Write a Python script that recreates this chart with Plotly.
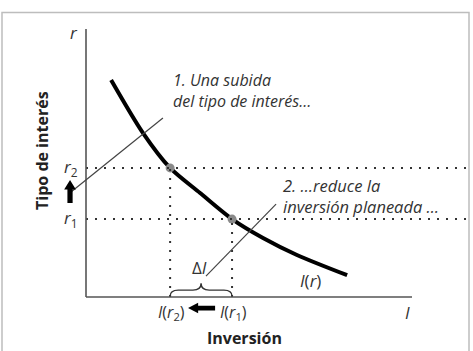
import plotly.graph_objects as go

# ---- data (conceptual diagram units) ----
curve_x = [0.77, 1.75, 2.58, 3.50, 4.48, 5.43, 6.47, 8.01]
curve_y = [6.66, 5.03, 3.96, 3.19, 2.39, 1.81, 1.29, 0.67]
r_levels = [3.96, 2.39]          # r2, r1
i_levels = [2.58, 4.48]          # I(r2), I(r1)
r_labels = ["<i>r</i><sub>2</sub>", "<i>r</i><sub>1</sub>"]
i_labels = ["<i>I</i>(<i>r</i><sub>2</sub>)", "<i>I</i>(<i>r</i><sub>1</sub>)"]
note1 = ["1. Una subida", "del tipo de interés…"]
note2 = ["2. …reduce la", "inversión planeada …"]
x_axis_len = 10.0
y_axis_len = 8.22

W, H = 473, 351
PX = 32.6  # pixels per unit
x_range = [-86 / PX, (W - 86) / PX]
y_range = [-(H - 297) / PX, 297 / PX]

r2, r1 = r_levels
i2, i1 = i_levels

fig = go.Figure()

fig.add_trace(go.Scatter(x=curve_x, y=curve_y, mode="lines",
                         line=dict(color="black", width=4, shape="spline", smoothing=0.8),
                         hoverinfo="skip", showlegend=False))
fig.add_trace(go.Scatter(x=i_levels, y=r_levels, mode="markers",
                         marker=dict(color="#8a8a8a", size=9),
                         hoverinfo="skip", showlegend=False))

shapes = []
dot = dict(color="#333333", width=2, dash="2px,7px")
x_right = x_range[1] - 0.1
for r in r_levels:
    shapes.append(dict(type="line", xref="x", yref="y", x0=0, x1=x_right, y0=r, y1=r, line=dot))
for i, r in zip(i_levels, r_levels):
    shapes.append(dict(type="line", xref="x", yref="y", x0=i, x1=i, y0=0, y1=r, line=dot))
ax = dict(color="#555555", width=1.6)
shapes.append(dict(type="line", xref="x", yref="y", x0=0, x1=0, y0=0, y1=y_axis_len, line=ax))
shapes.append(dict(type="line", xref="x", yref="y", x0=0, x1=x_axis_len, y0=0, y1=0, line=ax))
lead = dict(color="#444444", width=1.2)
shapes.append(dict(type="line", xref="x", yref="y", x0=-0.46, y0=3.22, x1=2.36, y1=5.49, line=lead))
shapes.append(dict(type="line", xref="x", yref="y", x0=3.68, y0=0.64, x1=5.83, y1=2.85, line=lead))
# brace
h = 0.42
d = 0.25
mid = (i2 + i1) / 2
path = (f"M {i2},0.02 Q {i2},{h/2} {i2+d},{h/2} L {mid-d},{h/2} "
        f"Q {mid},{h/2} {mid},{h} Q {mid},{h/2} {mid+d},{h/2} "
        f"L {i1-d},{h/2} Q {i1},{h/2} {i1},0.02")
shapes.append(dict(type="path", xref="x", yref="y", path=path,
                   line=dict(color="#333333", width=1.4)))

def up_arrow(x, y0, y1, sw=0.08, hw=0.18, hl=0.29):
    return (f"M {x-sw},{y0} L {x-sw},{y1-hl} L {x-hw},{y1-hl} L {x},{y1} "
            f"L {x+hw},{y1-hl} L {x+sw},{y1-hl} L {x+sw},{y0} Z")

def left_arrow(y, x0, x1, sw=0.075, hw=0.16, hl=0.31):
    return (f"M {x0},{y-sw} L {x1+hl},{y-sw} L {x1+hl},{y-hw} L {x1},{y} "
            f"L {x1+hl},{y+hw} L {x1+hl},{y+sw} L {x0},{y+sw} Z")

shapes.append(dict(type="path", xref="x", yref="y", path=up_arrow(-0.49, r1 + 0.49, r2 - 0.37),
                   fillcolor="black", line=dict(width=0)))
shapes.append(dict(type="path", xref="x", yref="y", path=left_arrow(-0.34, i1 - 0.52, i2 + 0.55),
                   fillcolor="black", line=dict(width=0)))
shapes.append(dict(type="rect", xref="paper", yref="paper",
                   x0=2 / W, x1=469 / W, y0=-0.05, y1=1 - 12.5 / H,
                   line=dict(color="#bdbdbd", width=1.5)))

it = dict(family="Open Sans", color="#333333")
ann = []
ann.append(dict(x=2.60, y=6.32, text="<i>" + "<br>".join(note1) + "</i>", xanchor="left",
                yanchor="middle", align="left", font=dict(size=16, **it)))
ann.append(dict(x=5.99, y=3.10, text="<i>" + "<br>".join(note2) + "</i>", xanchor="left",
                yanchor="middle", align="left", font=dict(size=16.5, **it)))
ann.append(dict(x=-0.18, y=8.10, text="<i>r</i>", xanchor="right", yanchor="middle",
                font=dict(size=17, **it)))
for lab, r in zip(r_labels, r_levels):
    ann.append(dict(x=-0.18, y=r + 0.02, text=lab, xanchor="right", yanchor="middle",
                    font=dict(size=17, **it)))
for lab, i in zip(i_labels, i_levels):
    ann.append(dict(x=i + 0.04, y=-0.49, text=lab, xanchor="center", yanchor="middle",
                    font=dict(size=16, **it)))
ann.append(dict(x=6.90, y=0.52, text="<i>I</i>(<i>r</i>)", xanchor="center", yanchor="middle",
                font=dict(size=17, **it)))
ann.append(dict(x=9.85, y=-0.46, text="<i>I</i>", xanchor="center", yanchor="middle",
                font=dict(size=17, **it)))
ann.append(dict(x=mid - 0.06, y=0.89, text="Δ<i>I</i>", xanchor="center", yanchor="middle",
                font=dict(size=17, **it)))
ann.append(dict(x=4.85, y=-1.26, text="<b>Inversión</b>", xanchor="center", yanchor="middle",
                font=dict(size=16, family="Open Sans", color="#222222")))
ann.append(dict(x=-1.35, y=4.51, text="<b>Tipo de interés</b>", textangle=-90,
                xanchor="center", yanchor="middle",
                font=dict(size=16, family="Open Sans", color="#222222")))
for a in ann:
    a.setdefault("showarrow", False)
    a.setdefault("xref", "x")
    a.setdefault("yref", "y")

fig.update_layout(
    width=W, height=H, margin=dict(l=0, r=0, t=0, b=0),
    paper_bgcolor="white", plot_bgcolor="white",
    xaxis=dict(range=x_range, visible=False, fixedrange=True),
    yaxis=dict(range=y_range, visible=False, fixedrange=True),
    shapes=shapes, annotations=ann, showlegend=False,
)
fig.write_html("out.html")
